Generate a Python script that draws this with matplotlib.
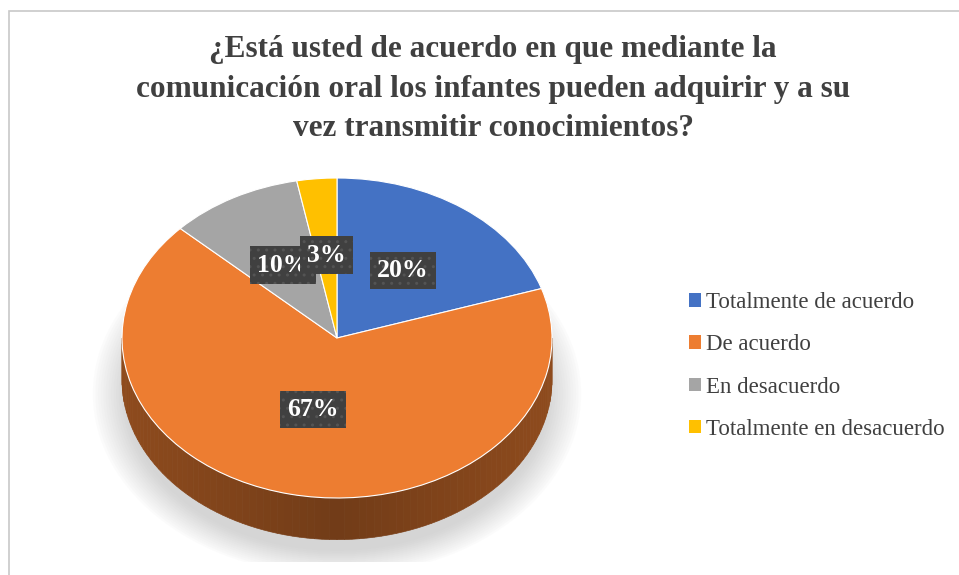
import numpy as np
import matplotlib
matplotlib.use("Agg")
import matplotlib.pyplot as plt
from matplotlib.patches import Polygon, Rectangle, Ellipse, Patch
import matplotlib.colors as mcolors

# ---- data ----
categories = ["Totalmente de acuerdo", "De acuerdo", "En desacuerdo", "Totalmente en desacuerdo"]
values = [20, 67, 10, 3]
colors = ["#4472C4", "#ED7D31", "#A5A5A5", "#FFC000"]
title = "¿Está usted de acuerdo en que mediante la\ncomunicación oral los infantes pueden adquirir y a su\nvez transmitir conocimientos?"

SERIF = ["Liberation Serif", "DejaVu Serif"]

fig = plt.figure(figsize=(9.59, 5.75), dpi=100)
fig.patch.set_facecolor("white")

# chart border
fig.add_artist(Rectangle((9 / 959, -0.1), 1.2, (575 - 11) / 575 + 0.1,
                         transform=fig.transFigure, fill=False,
                         ec="#c8c8c8", lw=1.2))

# pie axes: x 215 px/unit, y 160 px/unit, centre at (337, 338) px
ax = fig.add_axes([79 / 959, (575 - 562) / 575, 516 / 959, 416 / 575])
ax.axis("off")

depth = 0.26

# soft shadow below the pie
for i in range(14):
    s = 0.98 + i * 0.012
    ax.add_patch(Ellipse((0.0, -depth - 0.09), 2 * s, 2 * s,
                         fc="#9a9a9a", ec="none", alpha=0.03, zorder=0))

wedges, texts, autotexts = ax.pie(
    values, colors=colors, startangle=90, counterclock=False,
    autopct=lambda p: f"{p:.0f}%", pctdistance=0.52,
    wedgeprops=dict(linewidth=0.8, edgecolor="white"),
    textprops=dict(color="white", fontsize=18.5, fontweight="bold", family=SERIF),
    radius=1.0,
)
ax.set_aspect("auto")
ax.set_xlim(-1.2, 1.2)
ax.set_ylim(-1.4, 1.2)
for w in wedges:
    w.set_zorder(3)

# side (front rim) of the 3D pie for visible angles 180..360
for w, c in zip(wedges, colors):
    t1, t2 = w.theta1, w.theta2
    for k in (-360, 0, 360):
        a, b = max(t1 + k, 180), min(t2 + k, 360)
        if b > a:
            n = max(int((b - a) / 2), 2)
            edges = np.linspace(a, b, n + 1)
            base = np.array(mcolors.to_rgb(c))
            for e0, e1 in zip(edges[:-1], edges[1:]):
                th = np.radians(np.linspace(e0, e1, 4))
                top = np.c_[np.cos(th), np.sin(th)]
                bot = np.c_[np.cos(th[::-1]), np.sin(th[::-1]) - depth]
                mid = np.radians((e0 + e1) / 2)
                shade = 0.48 + 0.12 * abs(np.cos(mid))
                col = np.clip(base * shade, 0, 1)
                ax.add_patch(Polygon(np.r_[top, bot], closed=True, fc=col,
                                     ec=col, lw=0.5, zorder=2))

for t in autotexts:
    t.set_zorder(5)
    t.set_bbox(dict(boxstyle="square,pad=0.28", fc="#404040", ec="#545454",
                    lw=0, hatch=".."))
autotexts[1].set_y(autotexts[1].get_position()[1] + 0.06)

# title
fig.text(493 / 959, 1 - 89 / 575, title, ha="center", va="center",
         fontsize=22.5, fontweight="bold", color="#404040", family=SERIF,
         linespacing=1.46)

# legend
handles = [Patch(fc=c, ec="none") for c in colors]
leg = fig.legend(handles, categories, loc="center left",
                 bbox_to_anchor=(668 / 959, 1 - 366 / 575), frameon=False,
                 prop=dict(family=SERIF, size=16.5), labelcolor="#404040",
                 handlelength=0.55, handleheight=0.55, handletextpad=0.2,
                 labelspacing=0.92)

fig.savefig("out.png", dpi=100)
